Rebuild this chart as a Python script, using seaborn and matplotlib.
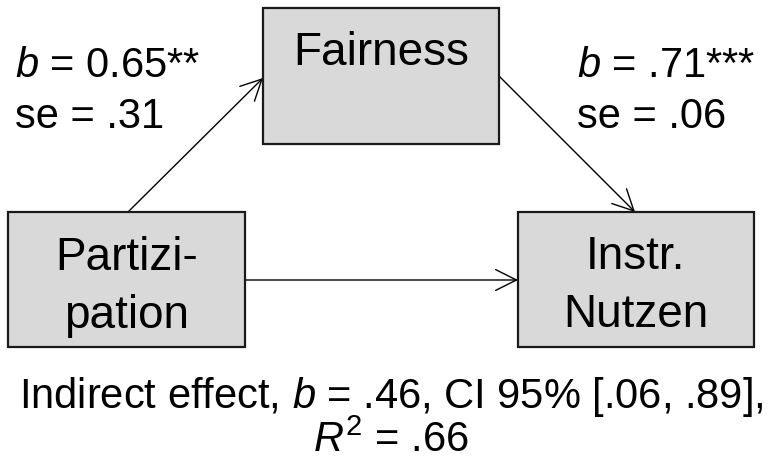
import matplotlib
matplotlib.use("Agg")
import matplotlib.pyplot as plt
from matplotlib.patches import Rectangle, FancyArrowPatch
import seaborn as sns

# Values
node_names = ["Fairness", "Partizi-\npation", "Instr.\nNutzen"]
path_b = ["0.65**", ".71***"]
path_se = [".31", ".06"]
indirect_b = ".46"
indirect_ci = [".06", ".89"]
r_squared = ".66"

# Layout in pixel units (y from the top), boxes: x0, y0, x1, y1
boxes = {
    "Fairness": (263, 9, 499, 145),
    "Partizi-\npation": (8, 213, 245, 348),
    "Instr.\nNutzen": (518, 213, 754, 348),
}
label_baselines = {
    "Fairness": [65],
    "Partizi-\npation": [270, 328],
    "Instr.\nNutzen": [269, 327],
}
arrows = [
    ((128, 213), (263, 79)),
    ((499, 77), (635, 213)),
    ((245, 281), (518, 281)),
]
coef_pos = [(15, 77, 128), (577, 77, 128)]

sns.set_theme(style="white")
plt.rcParams["font.family"] = ["Liberation Sans", "DejaVu Sans"]
plt.rcParams["text.color"] = "black"
plt.rcParams["mathtext.fontset"] = "custom"
plt.rcParams["mathtext.rm"] = "Liberation Sans"
plt.rcParams["mathtext.it"] = "Liberation Sans:italic"

fig = plt.figure(figsize=(7.76, 4.6), dpi=100)
ax = fig.add_axes([0, 0, 1, 1])
ax.set_xlim(0, 776)
ax.set_ylim(460, 0)
ax.set_axis_off()

# boxes with labels
for name in node_names:
    x0, y0, x1, y1 = boxes[name]
    ax.add_patch(Rectangle((x0, y0), x1 - x0, y1 - y0, facecolor="#d9d9d9",
                           edgecolor="#1a1a1a", linewidth=1.6, zorder=2))
    for line, yb in zip(name.split("\n"), label_baselines[name]):
        ax.text((x0 + x1) / 2, yb, line, ha="center", va="baseline",
                fontsize=33, color="black", zorder=3)

# paths
for start, end in arrows:
    ax.add_patch(FancyArrowPatch(start, end, arrowstyle="->,head_length=10,head_width=5",
                                 mutation_scale=1.5, color="black", linewidth=1.0,
                                 shrinkA=0, shrinkB=0, zorder=1))

# coefficients
for (x, yb1, yb2), b, se in zip(coef_pos, path_b, path_se):
    ax.text(x, yb1, "$b$ = " + b, ha="left", va="baseline", fontsize=30, color="black")
    ax.text(x, yb2, "se = " + se, ha="left", va="baseline", fontsize=30, color="black")

# indirect effect
ax.text(391, 408, "Indirect effect, $b$ = %s, CI 95%% [%s, %s]," % (indirect_b, indirect_ci[0], indirect_ci[1]),
        ha="center", va="baseline", fontsize=30, color="black")
ax.text(391, 452, "$R^2$ = " + r_squared, ha="center", va="baseline", fontsize=30, color="black")

plt.savefig("out.png", dpi=100)
